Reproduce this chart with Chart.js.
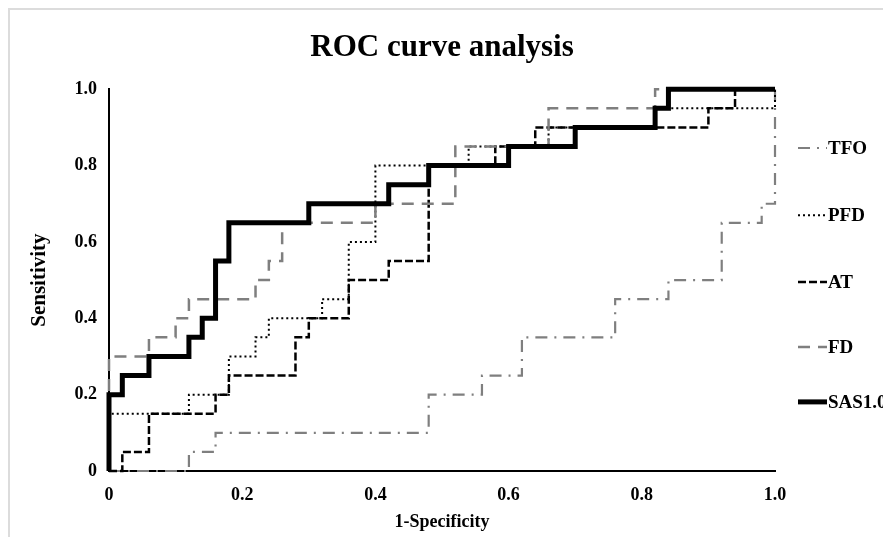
<!DOCTYPE html>
<html>
<head>
<meta charset="utf-8">
<script src="https://cdn.jsdelivr.net/npm/chart.js@4.4.0/dist/chart.umd.min.js"></script>
<style>
  html, body { margin: 0; padding: 0; background: #ffffff; }
  #c { display: block; }
</style>
</head>
<body>
<canvas id="c" width="883" height="537"></canvas>
<script>
// ---- Data (1-Specificity, Sensitivity) step corners ----
const seriesNames = ['TFO', 'PFD', 'AT', 'FD', 'SAS1.0'];

const tfoX = [0, 0.12, 0.16, 0.48, 0.56, 0.62, 0.76, 0.84, 0.92, 0.98, 1.0];
const tfoY = [0, 0.05, 0.10, 0.20, 0.25, 0.35, 0.45, 0.50, 0.65, 0.70, 1.0];

const pfdX = [0, 0, 0.12, 0.18, 0.22, 0.24, 0.32, 0.36, 0.40, 0.54, 0.66, 0.82, 1.0];
const pfdY = [0, 0.15, 0.20, 0.30, 0.35, 0.40, 0.45, 0.60, 0.80, 0.85, 0.90, 0.95, 1.0];

const atX = [0, 0.02, 0.06, 0.16, 0.18, 0.28, 0.30, 0.36, 0.42, 0.48, 0.58, 0.64, 0.90, 0.94, 1.0];
const atY = [0, 0.05, 0.15, 0.20, 0.25, 0.35, 0.40, 0.50, 0.55, 0.80, 0.85, 0.90, 0.95, 1.0, 1.0];

const fdX = [0, 0, 0.06, 0.10, 0.12, 0.22, 0.24, 0.26, 0.40, 0.52, 0.66, 0.82, 1.0];
const fdY = [0, 0.30, 0.35, 0.40, 0.45, 0.50, 0.55, 0.65, 0.70, 0.85, 0.95, 1.0, 1.0];

const sasX = [0, 0, 0.02, 0.06, 0.12, 0.14, 0.16, 0.18, 0.30, 0.42, 0.48, 0.60, 0.70, 0.82, 0.84, 1.0];
const sasY = [0, 0.20, 0.25, 0.30, 0.35, 0.40, 0.55, 0.65, 0.70, 0.75, 0.80, 0.85, 0.90, 0.95, 1.0, 1.0];

const xTicks = [0, 0.2, 0.4, 0.6, 0.8, 1.0];
const yTicks = [0, 0.2, 0.4, 0.6, 0.8, 1.0];
const tickLabel = v => (v === 0 ? '0' : v.toFixed(1));

const pts = (xs, ys) => xs.map((x, i) => ({ x: x, y: ys[i] }));

const SERIF = '"Liberation Serif", "Times New Roman", serif';
const GRAY = '#7f7f7f';

const border = {
  id: 'frameBorder',
  beforeDraw(chart) {
    const ctx = chart.ctx;
    ctx.save();
    ctx.fillStyle = '#ffffff';
    ctx.fillRect(0, 0, chart.width, chart.height);
    ctx.strokeStyle = '#dcdcdc';
    ctx.lineWidth = 2;
    ctx.beginPath();
    ctx.moveTo(9, chart.height);
    ctx.lineTo(9, 9);
    ctx.lineTo(chart.width, 9);
    ctx.stroke();
    ctx.restore();
  }
};

const sideLegend = {
  id: 'sideLegend',
  afterDraw(chart) {
    const ctx = chart.ctx;
    const a = chart.chartArea;
    const h = a.bottom - a.top;
    const fr = [0.154, 0.330, 0.505, 0.675, 0.819];
    const x0 = a.right + 23;
    const len = 29;
    ctx.save();
    chart.data.datasets.forEach((ds, i) => {
      const y = a.top + h * fr[i];
      ctx.beginPath();
      ctx.setLineDash(ds.borderDash || []);
      ctx.lineWidth = ds.borderWidth;
      ctx.strokeStyle = ds.borderColor;
      ctx.lineCap = 'butt';
      ctx.moveTo(x0, y);
      ctx.lineTo(x0 + len, y);
      ctx.stroke();
      ctx.setLineDash([]);
      ctx.fillStyle = '#000000';
      ctx.font = 'bold 19px ' + SERIF;
      ctx.textBaseline = 'middle';
      ctx.textAlign = 'left';
      ctx.fillText(ds.label, x0 + len + 1, y + 1);
    });
    ctx.restore();
  }
};

const common = { pointRadius: 0, pointHoverRadius: 0, fill: false, stepped: 'before', tension: 0, clip: false };

new Chart(document.getElementById('c'), {
  type: 'line',
  data: {
    datasets: [
      Object.assign({ label: seriesNames[0], data: pts(tfoX, tfoY), borderColor: GRAY, borderWidth: 2.2, borderDash: [12, 7, 2, 7], order: 4 }, common),
      Object.assign({ label: seriesNames[1], data: pts(pfdX, pfdY), borderColor: '#000000', borderWidth: 2, borderDash: [2, 3], order: 3 }, common),
      Object.assign({ label: seriesNames[2], data: pts(atX, atY), borderColor: '#000000', borderWidth: 2.5, borderDash: [8, 3], order: 2 }, common),
      Object.assign({ label: seriesNames[3], data: pts(fdX, fdY), borderColor: GRAY, borderWidth: 2.5, borderDash: [12, 8], order: 1 }, common),
      Object.assign({ label: seriesNames[4], data: pts(sasX, sasY), borderColor: '#000000', borderWidth: 5, borderDash: [], order: 0 }, common)
    ]
  },
  options: {
    responsive: false,
    animation: false,
    devicePixelRatio: 1,
    layout: { padding: { left: 27, right: 108, top: 10, bottom: 4 } },
    plugins: {
      legend: { display: false },
      tooltip: { enabled: false },
      title: {
        display: true,
        text: 'ROC curve analysis',
        fullSize: false,
        color: '#000000',
        font: { family: SERIF, size: 31, weight: 'bold' },
        padding: { top: 19, bottom: 23 }
      }
    },
    scales: {
      x: {
        type: 'linear',
        min: 0, max: 1,
        afterBuildTicks: s => { s.ticks = xTicks.map(v => ({ value: v })); },
        afterFit: s => { s.height = 62; },
        ticks: {
          callback: v => tickLabel(v),
          color: '#000000',
          font: { family: SERIF, size: 18, weight: 'bold' },
          padding: 14,
          maxRotation: 0
        },
        grid: { display: false, drawTicks: false },
        border: { display: true, color: '#000000', width: 2 },
        title: {
          display: true,
          text: '1-Specificity',
          color: '#000000',
          font: { family: SERIF, size: 18, weight: 'bold' },
          padding: { top: 6, bottom: 0 }
        }
      },
      y: {
        type: 'linear',
        min: 0, max: 1,
        afterBuildTicks: s => { s.ticks = yTicks.map(v => ({ value: v })); },
        afterFit: s => { s.width = 82; },
        ticks: {
          callback: v => tickLabel(v),
          color: '#000000',
          font: { family: SERIF, size: 18, weight: 'bold' },
          padding: 12
        },
        grid: { display: false, drawTicks: false },
        border: { display: true, color: '#000000', width: 2 },
        title: {
          display: true,
          text: 'Sensitivity',
          color: '#000000',
          font: { family: SERIF, size: 21, weight: 'bold' },
          padding: 0
        }
      }
    }
  },
  plugins: [border, sideLegend]
});
</script>
</body>
</html>
